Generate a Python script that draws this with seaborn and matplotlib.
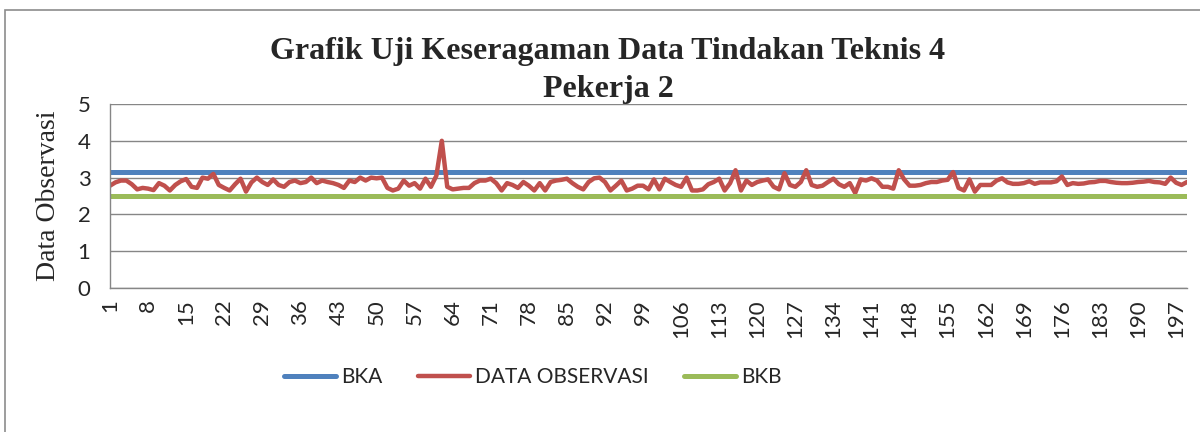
import matplotlib
matplotlib.use("Agg")
import matplotlib.pyplot as plt
import seaborn as sns
import pandas as pd
from matplotlib.patches import Rectangle

# control limits
BKA = 3.14
BKB = 2.51

data_observasi = [
    2.78, 2.87, 2.92, 2.92, 2.82, 2.68, 2.72, 2.70, 2.66, 2.85,
    2.78, 2.65, 2.80, 2.90, 2.96, 2.75, 2.72, 3.00, 2.97, 3.10,
    2.80, 2.72, 2.65, 2.82, 2.97, 2.62, 2.87, 3.00, 2.88, 2.80,
    2.95, 2.80, 2.75, 2.88, 2.92, 2.85, 2.88, 3.00, 2.85, 2.92,
    2.88, 2.85, 2.80, 2.72, 2.92, 2.88, 3.00, 2.92, 3.00, 2.98,
    3.00, 2.72, 2.65, 2.70, 2.92, 2.78, 2.85, 2.70, 2.97, 2.75,
    3.05, 4.00, 2.75, 2.68, 2.70, 2.72, 2.72, 2.85, 2.92, 2.92,
    2.97, 2.85, 2.65, 2.85, 2.80, 2.72, 2.88, 2.78, 2.65, 2.85,
    2.65, 2.88, 2.92, 2.94, 2.97, 2.85, 2.75, 2.68, 2.88, 2.98,
    3.00, 2.88, 2.65, 2.78, 2.92, 2.65, 2.70, 2.78, 2.78, 2.68,
    2.95, 2.68, 2.97, 2.88, 2.80, 2.75, 3.00, 2.65, 2.65, 2.68,
    2.82, 2.88, 2.97, 2.65, 2.85, 3.20, 2.65, 2.92, 2.80, 2.88,
    2.92, 2.95, 2.75, 2.68, 3.12, 2.80, 2.75, 2.88, 3.20, 2.80,
    2.75, 2.78, 2.88, 2.97, 2.82, 2.75, 2.85, 2.58, 2.95, 2.92,
    2.98, 2.92, 2.75, 2.75, 2.70, 3.20, 2.95, 2.78, 2.78, 2.80,
    2.85, 2.88, 2.88, 2.92, 2.94, 3.15, 2.72, 2.65, 2.95, 2.62,
    2.80, 2.80, 2.80, 2.92, 2.98, 2.87, 2.83, 2.83, 2.85, 2.90,
    2.83, 2.87, 2.87, 2.87, 2.90, 3.03, 2.80, 2.85, 2.83, 2.84,
    2.87, 2.88, 2.91, 2.91, 2.88, 2.86, 2.85, 2.85, 2.86, 2.88,
    2.89, 2.91, 2.88, 2.87, 2.83, 3.00, 2.86, 2.80, 2.88,
]
n_obs = len(data_observasi)
pengamatan = list(range(1, n_obs + 1))
x_tick_labels = list(range(1, n_obs + 1, 7))
y_ticks = [0, 1, 2, 3, 4, 5]

series_names = ["BKA", "DATA OBSERVASI", "BKB"]
colors = {"BKA": "#4F81BD", "DATA OBSERVASI": "#C0504D", "BKB": "#9BBB59"}
widths = {"BKA": 3.6, "DATA OBSERVASI": 3.2, "BKB": 3.6}

df = pd.DataFrame({
    "Pengamatan": pengamatan,
    "BKA": [BKA] * n_obs,
    "DATA OBSERVASI": data_observasi,
    "BKB": [BKB] * n_obs,
})
df_long = df.melt(id_vars="Pengamatan", var_name="Seri", value_name="Nilai")

sns.set_theme(style="white")
plt.rcParams["font.family"] = ["Lato", "DejaVu Sans"]

fig = plt.figure(figsize=(12, 4.32), dpi=100)
ax = fig.add_axes([110 / 1200, 1 - 288 / 432, 1077 / 1200, 184 / 432])

for name in series_names:
    sns.lineplot(
        data=df_long[df_long["Seri"] == name],
        x="Pengamatan", y="Nilai",
        color=colors[name], linewidth=widths[name],
        label=name, ax=ax, solid_capstyle="round", solid_joinstyle="round",
    )

ax.set_xlim(1, n_obs)
ax.set_ylim(0, 5)
ax.set_yticks(y_ticks)
ax.set_xticks(x_tick_labels)
ax.set_xticklabels([str(v) for v in x_tick_labels], rotation=90, va="top")
ax.tick_params(axis="x", labelsize=16, length=0, pad=8)
ax.tick_params(axis="y", labelsize=16, length=0, pad=14)
ax.grid(axis="y", color="#868686", linewidth=1.0)
ax.grid(axis="x", visible=False)
ax.set_xlabel("")
ax.set_ylabel("Data Observasi", family="Liberation Serif", fontsize=20, labelpad=12)
for side in ["top", "right"]:
    ax.spines[side].set_visible(False)
for side in ["left", "bottom"]:
    ax.spines[side].set_color("#868686")
    ax.spines[side].set_linewidth(1.0)

fig.text(608 / 1200, 1 - 52 / 432, "Grafik Uji Keseragaman Data Tindakan Teknis 4",
         family="Liberation Serif", fontweight="bold", fontsize=23, ha="center", va="center")
fig.text(608 / 1200, 1 - 89 / 432, "Pekerja 2",
         family="Liberation Serif", fontweight="bold", fontsize=23, ha="center", va="center")

ax.legend(loc="center", bbox_to_anchor=(533 / 1200, 1 - 377 / 432),
          bbox_transform=fig.transFigure, ncol=3, frameon=False, fontsize=15,
          handlelength=2.5, handletextpad=0.25, columnspacing=1.7)

# chart border
fig.patches.append(Rectangle((5 / 1200, -0.1), 1.2, 1.1 - 10 / 432, transform=fig.transFigure,
                             fill=False, edgecolor="#8c8c8c", linewidth=1.2))

fig.savefig("out.png", dpi=100)
plt.close(fig)
